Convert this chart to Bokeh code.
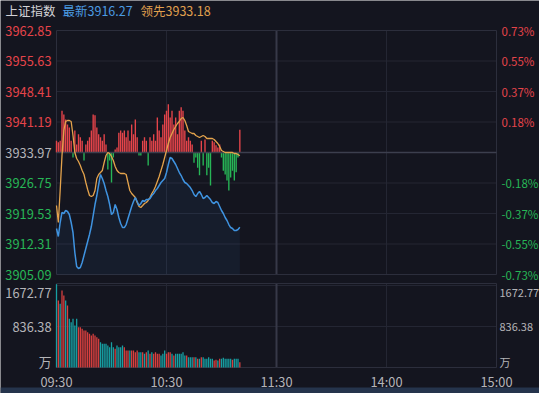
from bokeh.plotting import figure
from bokeh.models import ColumnDataSource, Range1d
from bokeh.embed import file_html
from bokeh.resources import INLINE
from bokeh.core.properties import value

# ---------------- data ----------------
prev_close = 3933.97
price_ticks = [3962.85, 3955.63, 3948.41, 3941.19, 3933.97, 3926.75, 3919.53, 3912.31, 3905.09]
pct_labels = ["0.73%", "0.55%", "0.37%", "0.18%", "", "-0.18%", "-0.37%", "-0.55%", "-0.73%"]
vol_ticks = [1672.77, 836.38]
vol_tick_labels = ["1672.77", "836.38"]
vol_unit = "万"
time_ticks = [0, 60, 120, 180, 240]
time_labels = ["09:30", "10:30", "11:30", "14:00", "15:00"]
title_name = "上证指数"
last_text = "最新3916.27"
lead_text = "领先3933.18"

index_price = [3915.98, 3914.08, 3917.40, 3919.77, 3919.53, 3920.24, 3920.00, 3919.29, 3917.40, 3915.03,
               3910.30, 3906.98, 3906.51, 3906.75, 3907.93, 3909.59, 3911.24, 3912.90, 3914.56, 3916.45,
               3919.05, 3921.66, 3923.79, 3926.39, 3928.76, 3927.81, 3926.63, 3924.97, 3923.55, 3921.66,
               3919.29, 3919.77, 3921.66, 3920.48, 3918.58, 3917.16, 3916.21, 3916.21, 3916.92, 3918.35,
               3919.77, 3921.19, 3922.37, 3923.32, 3922.37, 3921.42, 3921.90, 3922.61, 3922.37, 3922.84,
               3922.84, 3923.08, 3923.79, 3924.26, 3924.97, 3925.45, 3926.16, 3926.87, 3927.34, 3927.81,
               3929.23, 3931.13, 3932.78, 3932.55, 3931.84, 3931.13, 3930.18, 3929.23, 3928.52, 3927.58,
               3926.87, 3926.63, 3926.16, 3925.68, 3924.97, 3924.03, 3923.55, 3924.26, 3924.74, 3924.03,
               3923.08, 3923.32, 3923.79, 3923.32, 3922.84, 3922.13, 3921.90, 3922.37, 3922.13, 3921.19,
               3920.24, 3919.53, 3918.58, 3917.87, 3916.92, 3916.21, 3915.98, 3915.50, 3915.50, 3915.74,
               3916.27]

lead_price = [3921.42, 3917.40, 3924.97, 3933.26, 3939.18, 3941.31, 3941.54, 3941.54, 3941.31, 3937.99,
              3933.97, 3932.55, 3931.84, 3930.89, 3929.71, 3928.76, 3926.87, 3925.21, 3923.79, 3923.55,
              3923.79, 3924.97, 3927.81, 3928.76, 3929.23, 3929.71, 3931.60, 3933.26, 3933.97, 3933.73,
              3933.02, 3932.07, 3930.65, 3929.71, 3929.23, 3929.00, 3929.00, 3929.00, 3928.76, 3926.87,
              3924.97, 3924.26, 3923.79, 3923.32, 3922.13, 3921.19, 3920.95, 3921.42, 3921.90, 3922.13,
              3922.61, 3923.32, 3924.26, 3924.97, 3925.92, 3927.10, 3928.29, 3929.71, 3931.13, 3932.78,
              3934.44, 3936.10, 3937.52, 3938.47, 3939.41, 3940.12, 3940.83, 3941.31, 3942.02, 3942.25,
              3941.54, 3940.36, 3938.94, 3938.70, 3938.47, 3938.47, 3937.99, 3937.76, 3937.52, 3937.76,
              3937.99, 3937.76, 3937.28, 3937.28, 3937.28, 3937.28, 3937.05, 3936.57, 3936.10, 3935.39,
              3934.44, 3934.21, 3933.97, 3933.97, 3933.97, 3933.97, 3933.97, 3933.73, 3933.73, 3933.50,
              3933.18]

strength = [2.8, 2.4, 2.8, 9.9, 9.0, 7.8, 6.6, 5.9, 2.8, -1.2,
            5.2, 1.9, 4.3, 3.6, 2.8, -1.9, 1.9, 2.8, 3.6, 5.2,
            9.0, 8.8, 5.9, 4.3, 3.6, 2.8, 4.3, 1.9, -4.0, -1.9,
            -7.1, -1.2, 0.7, 1.2, 4.7, 5.2, 4.7, 5.2, 3.6, 5.2,
            2.8, 6.6, 4.3, 7.8, 3.6, -0.7, -0.7, 2.8, 3.6, 2.8,
            -3.1, 3.6, 2.8, 4.3, 2.8, 8.3, 5.2, 3.6, 6.6, 9.0,
            9.9, 11.4, 8.3, 9.9, 6.6, 8.3, 4.3, 9.9, 10.7, 9.9,
            5.2, 2.8, 3.6, 2.8, 1.9, -2.4, -1.2, -3.6, -5.4, 2.8,
            -3.1, 3.1, -5.4, -3.6, -7.8, 2.8, 2.4, 1.7, 1.2, 1.9,
            -1.2, -4.3, -5.2, -6.6, -9.0, -5.9, -4.3, -6.6, -4.7, -1.2,
            5.4]

volume = [1700, 1367, 1300, 1571, 1469, 1367, 1265, 993, 925, 993,
          857, 993, 823, 823, 789, 755, 755, 721, 687, 653,
          687, 653, 619, 585, 517, 483, 483, 483, 449, 415,
          517, 415, 381, 449, 415, 415, 449, 415, 347, 347,
          347, 347, 347, 313, 347, 313, 313, 313, 279, 313,
          347, 279, 313, 279, 313, 279, 279, 245, 279, 347,
          279, 313, 313, 279, 245, 279, 279, 279, 279, 313,
          245, 245, 211, 211, 211, 211, 211, 177, 177, 211,
          211, 177, 177, 211, 177, 177, 143, 160, 143, 177,
          177, 200, 177, 177, 177, 177, 160, 177, 177, 177,
          109]

vol_up = [0, 1, 0, 1, 1, 0, 1, 0, 0, 0,
          0, 0, 1, 1, 1, 1, 1, 1, 1, 1,
          1, 1, 1, 1, 0, 0, 0, 0, 0, 0,
          0, 0, 1, 0, 0, 0, 0, 1, 1, 1,
          0, 1, 1, 1, 1, 0, 0, 1, 0, 1,
          0, 1, 0, 1, 1, 1, 1, 0, 0, 0,
          1, 1, 1, 0, 1, 0, 0, 0, 0, 0,
          0, 1, 0, 0, 0, 1, 0, 1, 0, 1,
          0, 0, 0, 0, 0, 0, 1, 1, 0, 1,
          0, 0, 0, 0, 0, 0, 1, 0, 0, 0,
          1]

# ---------------- layout (pixels) & styles ----------------
W, H = 539, 393
PX_L, PX_R = 56, 496          # pixel x of 09:30 and 15:00
PX_MT, PX_MB = 30, 274        # pixel y of top / bottom price ticks
PX_VT, PX_VB = 285, 367       # pixel y of top volume tick / zero volume
PX_VFRAME = 283               # top of the volume pane
PX_STRIP = 387                # top of the bottom strip

BG = "#14151f"
GRID = "#242633"
FRAME = "#2c2e3c"
RED = "#e5444a"
GREEN = "#27b556"
GRAY = "#b4b4b8"
BLUE = "#3f93e0"
ORANGE = "#e4a34c"
VRED = "#d8403f"
VTEAL = "#17a0a3"
FONT = "Noto Sans CJK SC"
FS = "12.8px"      # left / bottom labels
RFS = "11.5px"     # right price labels (fit inside the window)
RVFS = "11px"      # right volume labels
HFS = "12.5px"

x_end = time_ticks[-1]
p_hi, p_lo = price_ticks[0], price_ticks[-1]
mpp = x_end / (PX_R - PX_L)                 # minutes per pixel
ppp = (p_hi - p_lo) / (PX_MB - PX_MT)       # points per pixel
vpp = vol_ticks[0] / (PX_VB - PX_VT)        # volume per pixel

p = figure(width=W, height=H,
           x_range=Range1d(-PX_L * mpp, x_end + (W - PX_R) * mpp),
           y_range=Range1d(p_lo - (H - PX_MB) * ppp, p_hi + PX_MT * ppp),
           output_backend="svg", toolbar_location=None,
           x_axis_location=None, y_axis_location=None, min_border=0,
           background_fill_color=BG, border_fill_color=BG, outline_line_color=None)
p.grid.grid_line_color = None
p.extra_y_ranges = {"vol": Range1d(-(H - PX_VB) * vpp, PX_VB * vpp)}

minutes = list(range(len(index_price)))
v_top = (PX_VB - PX_VFRAME) * vpp

# ---- main pane grid ----
inner = price_ticks[1:-1]
p.segment(x0=[0] * len(inner), x1=[x_end] * len(inner), y0=inner, y1=inner,
          line_color=GRID, line_width=1)
p.segment(x0=[time_ticks[1], time_ticks[3]], x1=[time_ticks[1], time_ticks[3]],
          y0=[p_lo] * 2, y1=[p_hi] * 2, line_color=GRID, line_width=1)
p.segment(x0=[time_ticks[2]], x1=[time_ticks[2]], y0=[p_lo], y1=[p_hi],
          line_color="#373948", line_width=2)
p.quad(left=[0], right=[x_end], bottom=[p_lo], top=[p_hi], fill_color=None,
       line_color=FRAME, line_width=1)

# ---- volume pane grid ----
p.segment(x0=[0] * 2, x1=[x_end] * 2, y0=vol_ticks, y1=vol_ticks,
          line_color=GRID, line_width=1, y_range_name="vol")
p.segment(x0=[time_ticks[1], time_ticks[3]], x1=[time_ticks[1], time_ticks[3]],
          y0=[0] * 2, y1=[v_top] * 2, line_color=GRID, line_width=1, y_range_name="vol")
p.segment(x0=[time_ticks[2]], x1=[time_ticks[2]], y0=[0], y1=[v_top],
          line_color="#373948", line_width=2, y_range_name="vol")
p.quad(left=[0], right=[x_end], bottom=[0], top=[v_top], fill_color=None,
       line_color=FRAME, line_width=1, y_range_name="vol")

# ---- main pane marks ----
p.varea(x=minutes, y1=index_price, y2=[p_lo] * len(minutes), fill_color=BLUE, fill_alpha=0.07)

bar_src = ColumnDataSource(dict(
    x=minutes,
    bottom=[prev_close] * len(minutes),
    top=[prev_close + s for s in strength],
    color=[RED if s >= 0 else GREEN for s in strength]))
p.vbar(x="x", bottom="bottom", top="top", width=0.75, fill_color="color",
       line_color=None, source=bar_src)

p.segment(x0=[0], x1=[x_end], y0=[prev_close], y1=[prev_close], line_color="#3c3f4e", line_width=1.5)

p.line(minutes, lead_price, line_color=ORANGE, line_width=1.3)
p.line(minutes, index_price, line_color=BLUE, line_width=1.5)

# ---- volume marks ----
vol_src = ColumnDataSource(dict(x=minutes, top=volume,
                                color=[VRED if u else VTEAL for u in vol_up]))
p.vbar(x="x", bottom=0, top="top", width=0.7, fill_color="color", line_color=None,
       source=vol_src, y_range_name="vol")

# ---- texts ----
label_colors = [RED if t > prev_close else (GRAY if t == prev_close else GREEN) for t in price_ticks]
p.text(x=[0] * len(price_ticks), y=price_ticks, text=["%.2f" % t for t in price_ticks],
       text_color=label_colors, x_offset=-5, text_align="right", text_baseline="middle",
       text_font=value(FONT), text_font_size=FS)
p.text(x=[x_end] * len(price_ticks), y=price_ticks, text=pct_labels,
       text_color=label_colors, x_offset=5, text_align="left", text_baseline="middle",
       text_font=value(FONT), text_font_size=RFS)

vol_label_y = [vol_ticks[0] - 7 * vpp, vol_ticks[1], 6 * vpp]
vol_label_text = vol_tick_labels + [vol_unit]
p.text(x=[0] * 3, y=vol_label_y, text=vol_label_text, text_color=GRAY, x_offset=-5,
       text_align="right", text_baseline="middle", text_font=value(FONT), text_font_size=FS,
       y_range_name="vol")
p.text(x=[x_end] * 3, y=vol_label_y, text=vol_label_text, text_color=GRAY, x_offset=3,
       text_align="left", text_baseline="middle", text_font=value(FONT), text_font_size=RVFS,
       y_range_name="vol")

p.text(x=time_ticks, y=[-14 * vpp] * len(time_ticks), text=time_labels, text_color=GRAY,
       text_align="center", text_baseline="middle", text_font=value(FONT), text_font_size=FS,
       y_range_name="vol")

head_y = p_hi + 20 * ppp
p.text(x=[0, 0, 0], y=[head_y] * 3, text=[title_name, last_text, lead_text],
       text_color=["#d2d2d6", "#4b9be2", "#e0a04e"], x_offset=[-51, 6, 84],
       text_align="left", text_baseline="middle", text_font=value(FONT), text_font_size=HFS)

# ---- bottom strip ----
p.quad(left=[-PX_L * mpp], right=[x_end + (W - PX_R) * mpp],
       bottom=[-(H - PX_VB) * vpp], top=[-(PX_STRIP - PX_VB) * vpp],
       fill_color="#25344c", line_color=None, y_range_name="vol")

open("out.html", "w").write(file_html(p, INLINE))
